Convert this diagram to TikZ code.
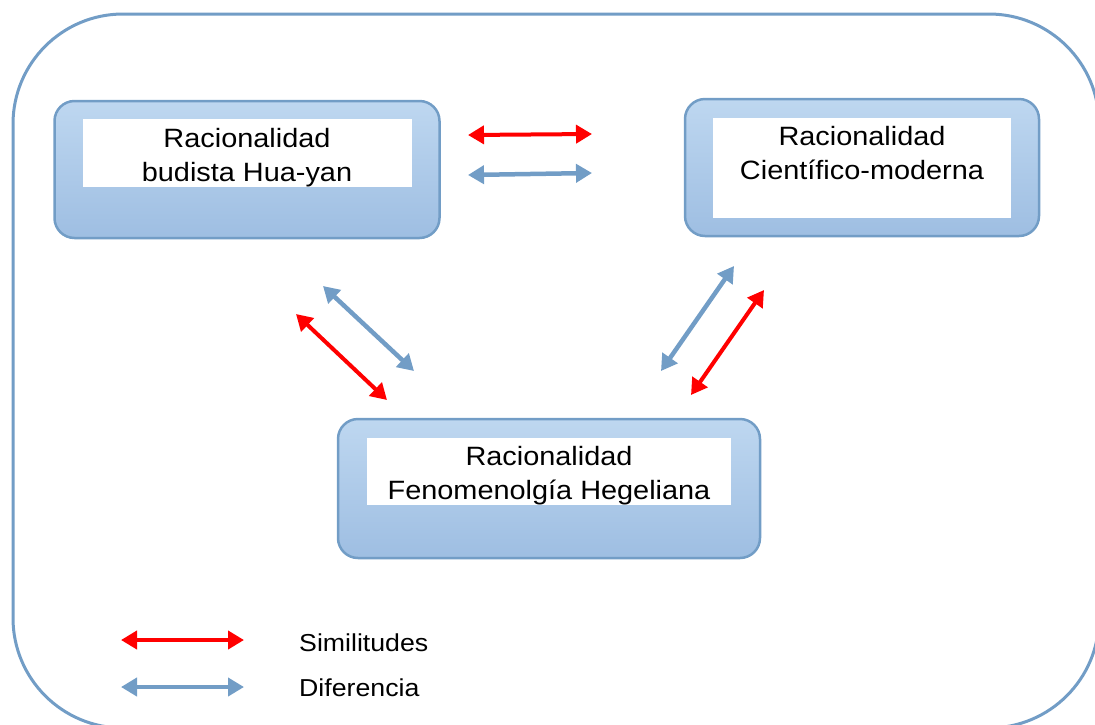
\documentclass[tikz,border=0pt]{standalone}
\usepackage{fontspec}
\setmainfont{Liberation Sans}[FakeStretch=1.09]
\usetikzlibrary{arrows.meta}
\definecolor{frameblue}{RGB}{114,157,198}
\definecolor{boxtop}{RGB}{190,215,240}
\definecolor{boxbottom}{RGB}{158,190,226}
\begin{document}
\begin{tikzpicture}[x=1pt,y=-1pt,
    box/.style={draw=frameblue,line width=2.5pt,rounded corners=20pt,
        top color=boxtop,bottom color=boxbottom,inner sep=0pt},
    pane/.style={fill=white,inner sep=0pt},
    txt/.style={inner sep=0pt,align=center,anchor=north,
        font=\fontsize{26.5}{34}\selectfont},
    legtxt/.style={inner sep=0pt,anchor=base west,
        font=\fontsize{24.5}{30}\selectfont},
    sim/.style={red,line width=4pt,
        {Triangle[length=16pt,width=18pt]}-{Triangle[length=16pt,width=18pt]}},
    dif/.style={frameblue,line width=4.5pt,
        {Triangle[length=16pt,width=18pt]}-{Triangle[length=16pt,width=18pt]}}]
    \useasboundingbox (0,0) rectangle (1095,724);
    \clip (0,0) rectangle (1095,724);

    % outer frame
    \draw[frameblue,line width=3pt,rounded corners=110pt] (13,14) rectangle (1099,728);

    % the three boxes
    \node[box,minimum width=385pt,minimum height=137pt] (hua) at (247,169.5) {};
    \node[pane,minimum width=329pt,minimum height=68pt] (huapane) at (247.5,153) {};
    \node[txt] (huatxt) at (247,128) {Racionalidad\\budista Hua-yan};

    \node[box,minimum width=354pt,minimum height=137pt] (cien) at (862,167.5) {};
    \node[pane,minimum width=298pt,minimum height=100pt] (cienpane) at (862,168) {};
    \node[txt] (cientxt) at (862,126) {Racionalidad\\Científico-moderna};

    \node[box,minimum width=422pt,minimum height=139pt] (hegel) at (549,488.5) {};
    \node[pane,minimum width=364pt,minimum height=67pt] (hegelpane) at (549,471.5) {};
    \node[txt] (hegeltxt) at (549,446) {Racionalidad\\Fenomenolgía Hegeliana};

    % arrow ends
    \coordinate (hcS1) at (468,135);
    \coordinate (hcS2) at (592,134);
    \coordinate (hcD1) at (468,175);
    \coordinate (hcD2) at (592,173);
    \coordinate (hhD1) at (323,286);
    \coordinate (hhD2) at (414,371);
    \coordinate (hhS1) at (296,314);
    \coordinate (hhS2) at (387,400);
    \coordinate (chD1) at (734,266);
    \coordinate (chD2) at (661,371);
    \coordinate (chS1) at (764,290);
    \coordinate (chS2) at (691,395);

    \draw[sim] (hcS1) -- (hcS2);
    \draw[dif] (hcD1) -- (hcD2);
    \draw[dif] (hhD1) -- (hhD2);
    \draw[sim] (hhS1) -- (hhS2);
    \draw[dif] (chD1) -- (chD2);
    \draw[sim] (chS1) -- (chS2);

    % legend
    \coordinate (legS1) at (121,640);
    \coordinate (legS2) at (244,640);
    \coordinate (legD1) at (121,687);
    \coordinate (legD2) at (244,687);
    \draw[sim] (legS1) -- (legS2);
    \draw[dif] (legD1) -- (legD2);
    \node[legtxt] (legsim) at (299,651) {Similitudes};
    \node[legtxt] (legdif) at (299,696) {Diferencia};

\end{tikzpicture}
\end{document}
